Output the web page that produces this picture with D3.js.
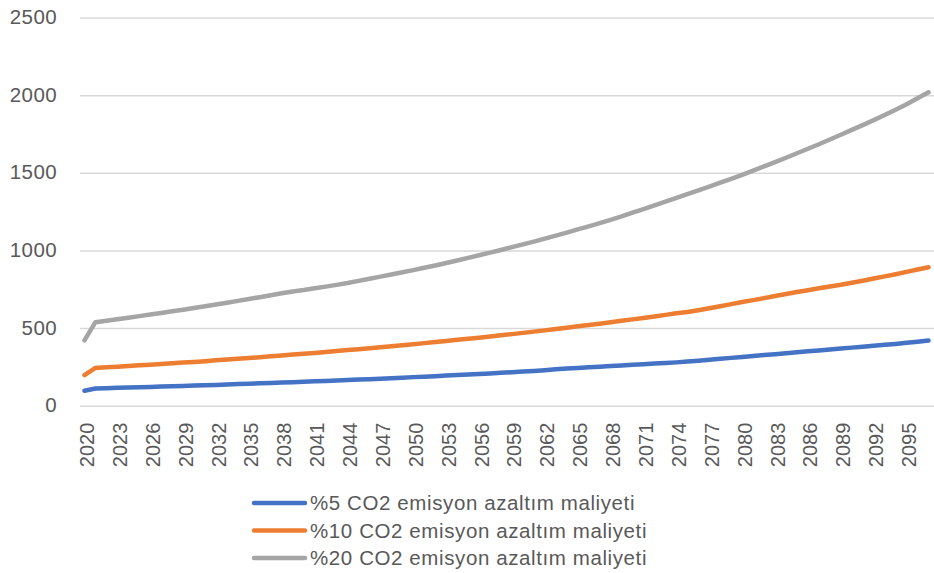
<!DOCTYPE html>
<html>
<head>
<meta charset="utf-8">
<script src="https://cdn.jsdelivr.net/npm/d3@7"></script>
<style>
  body { margin: 0; background: #fff; }
  svg { display: block; }
  text { font-family: "Liberation Sans", Arial, sans-serif; fill: #595959; }
</style>
</head>
<body>
<svg id="chart" width="934" height="573"></svg>
<script>
// Years on the category axis
const years = [
  2020, 2021, 2022, 2023, 2024, 2025, 2026, 2027, 2028, 2029,
  2030, 2031, 2032, 2033, 2034, 2035, 2036, 2037, 2038, 2039,
  2040, 2041, 2042, 2043, 2044, 2045, 2046, 2047, 2048, 2049,
  2050, 2051, 2052, 2053, 2054, 2055, 2056, 2057, 2058, 2059,
  2060, 2061, 2062, 2063, 2064, 2065, 2066, 2067, 2068, 2069,
  2070, 2071, 2072, 2073, 2074, 2075, 2076, 2077, 2078, 2079,
  2080, 2081, 2082, 2083, 2084, 2085, 2086, 2087, 2088, 2089,
  2090, 2091, 2092, 2093, 2094, 2095, 2096, 2097
];

// %5 reduction cost
const cost5 = [
   96, 111, 113, 115, 117, 119, 121, 123, 125, 127,
  130, 132, 134, 137, 139, 141, 144, 146, 149, 151,
  154, 157, 159, 162, 165, 168, 171, 174, 177, 180,
  184, 187, 190, 194, 197, 201, 204, 208, 212, 216,
  220, 224, 229, 234, 239, 243, 247, 251, 255, 259,
  263, 267, 271, 275, 279, 284, 290, 296, 302, 308,
  314, 320, 326, 332, 338, 344, 350, 356, 362, 368,
  374, 380, 386, 392, 398, 405, 412, 420
];

// %10 reduction cost
const cost10 = [
  197, 243, 247, 251, 255, 260, 264, 268, 273, 278,
  282, 287, 292, 297, 302, 307, 312, 318, 323, 329,
  334, 340, 346, 352, 358, 364, 370, 376, 383, 389,
  396, 403, 410, 417, 424, 431, 438, 446, 453, 461,
  469, 477, 485, 494, 502, 511, 519, 528, 537, 547,
  556, 565, 575, 585, 595, 603, 615, 628, 641, 654,
  668, 680, 693, 706, 719, 732, 744, 756, 768, 779,
  792, 805, 819, 833, 847, 862, 877, 892
];

// %20 reduction cost
const cost20 = [
   421,  538,  547,  557,  567,  577,  587,  597,  608,  618,
   629,  640,  652,  663,  675,  687,  699,  711,  724,  736,
   745,  756,  767,  778,  790,  804,  818,  831,  845,  859,
   873,  888,  903,  919,  935,  952,  969,  986, 1003, 1021,
  1039, 1057, 1076, 1095, 1115, 1135, 1155, 1176, 1197, 1219,
  1243, 1266, 1290, 1314, 1338, 1363, 1387, 1411, 1436, 1461,
  1487, 1514, 1541, 1569, 1597, 1626, 1655, 1684, 1714, 1745,
  1776, 1807, 1839, 1872, 1906, 1942, 1980, 2018
];

const seriesNames = [
  "%5 CO2 emisyon azaltım maliyeti",
  "%10 CO2 emisyon azaltım maliyeti",
  "%20 CO2 emisyon azaltım maliyeti"
];
const seriesColors = ["#4472C4", "#ED7D31", "#A5A5A5"];

const xTickLabels = [
  2020, 2023, 2026, 2029, 2032, 2035, 2038, 2041, 2044, 2047, 2050, 2053, 2056,
  2059, 2062, 2065, 2068, 2071, 2074, 2077, 2080, 2083, 2086, 2089, 2092, 2095
];
const yTickValues = [0, 500, 1000, 1500, 2000, 2500];

const series = [cost5, cost10, cost20].map((values, i) => ({
  name: seriesNames[i],
  color: seriesColors[i],
  values: values.map((v, j) => ({ year: years[j], value: v }))
}));

const svg = d3.select("#chart");
const plot = { left: 79, right: 934, top: 17.5, bottom: 405.7 };

const x = d3.scalePoint().domain(years).range([plot.left, plot.right]).padding(0.5);
const y = d3.scaleLinear().domain([0, 2500]).range([plot.bottom, plot.top]);

// Horizontal gridlines with value labels
const yAxis = svg.append("g")
  .attr("transform", `translate(80,0)`)
  .call(d3.axisLeft(y)
    .tickValues(yTickValues)
    .tickFormat(d3.format("d"))
    .tickSize(-(plot.right - 80))
    .tickPadding(23));
yAxis.select(".domain").remove();
yAxis.selectAll(".tick line").attr("stroke", "#d9d9d9").attr("stroke-width", 1.5);
yAxis.selectAll(".tick text")
  .attr("font-size", 20.5)
  .attr("letter-spacing", 0.4)
  .attr("fill", "#595959")
  .attr("dy", "0.3em");

// Category labels, rotated
const xAxis = svg.append("g")
  .attr("transform", `translate(0,${plot.bottom})`)
  .call(d3.axisBottom(x).tickValues(xTickLabels).tickSize(0));
xAxis.select(".domain").remove();
xAxis.selectAll(".tick text")
  .attr("font-size", 20)
  .attr("fill", "#595959")
  .attr("text-anchor", "end")
  .attr("transform", "translate(2,17) rotate(-90)")
  .attr("x", 0)
  .attr("y", 0)
  .attr("dy", "0.35em");

// Series lines
const line = d3.line().x(d => x(d.year)).y(d => y(d.value));
svg.append("g").selectAll("path")
  .data(series)
  .join("path")
  .attr("d", d => line(d.values))
  .attr("fill", "none")
  .attr("stroke", d => d.color)
  .attr("stroke-width", 4.5)
  .attr("stroke-linejoin", "round")
  .attr("stroke-linecap", "round");

// Legend
const legend = svg.append("g").attr("transform", "translate(254,503)");
const rows = legend.selectAll("g")
  .data(series)
  .join("g")
  .attr("transform", (d, i) => `translate(0,${i * 27.5})`);
rows.append("line")
  .attr("x1", 0).attr("x2", 51)
  .attr("stroke", d => d.color)
  .attr("stroke-width", 4.5)
  .attr("stroke-linecap", "round");
rows.append("text")
  .attr("x", 56)
  .attr("dy", "0.35em")
  .attr("font-size", 20.5)
  .attr("letter-spacing", 0.6)
  .text(d => d.name);
</script>
</body>
</html>
